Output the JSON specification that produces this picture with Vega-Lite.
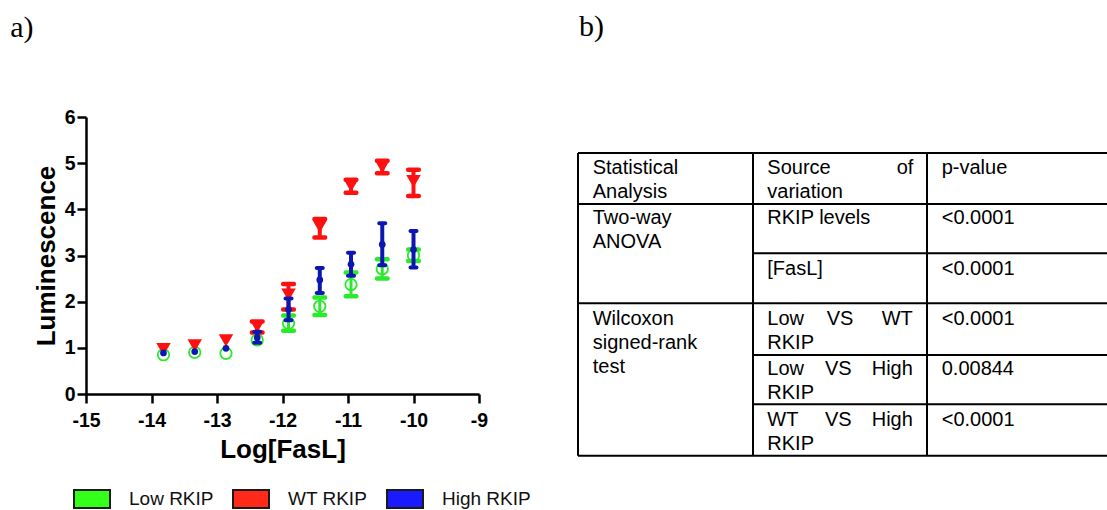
{
  "$schema": "https://vega.github.io/schema/vega-lite/v6.json",
  "padding": {"left": 10, "top": 12, "right": 0, "bottom": 0},
  "background": "white",
  "config": {
    "view": {"stroke": null},
    "title": {"font": "Liberation Serif", "fontSize": 30, "fontWeight": "normal", "color": "black", "anchor": "start"},
    "axis": {
      "grid": false,
      "domainColor": "black", "domainWidth": 2.5,
      "tickColor": "black", "tickWidth": 2.5, "tickSize": 9,
      "labelFont": "Liberation Sans", "labelFontWeight": "bold", "labelFontSize": 19.5, "labelColor": "black",
      "titleFont": "Liberation Sans", "titleFontWeight": "bold", "titleFontSize": 26, "titleColor": "black"
    }
  },
  "datasets": {
    "lum": [
      {"series": "Low RKIP", "logFasL": -13.817, "mean": 0.85},
      {"series": "Low RKIP", "logFasL": -13.34, "mean": 0.90},
      {"series": "Low RKIP", "logFasL": -12.863, "mean": 0.88},
      {"series": "Low RKIP", "logFasL": -12.386, "mean": 1.17},
      {"series": "Low RKIP", "logFasL": -11.908, "mean": 1.53, "lo": 1.37, "hi": 1.70},
      {"series": "Low RKIP", "logFasL": -11.431, "mean": 1.90, "lo": 1.71, "hi": 2.09},
      {"series": "Low RKIP", "logFasL": -10.954, "mean": 2.37, "lo": 2.12, "hi": 2.63},
      {"series": "Low RKIP", "logFasL": -10.477, "mean": 2.71, "lo": 2.50, "hi": 2.92},
      {"series": "Low RKIP", "logFasL": -10.0, "mean": 3.00, "lo": 2.88, "hi": 3.13},
      {"series": "WT RKIP", "logFasL": -13.817, "mean": 0.97},
      {"series": "WT RKIP", "logFasL": -13.34, "mean": 1.05},
      {"series": "WT RKIP", "logFasL": -12.863, "mean": 1.16},
      {"series": "WT RKIP", "logFasL": -12.386, "mean": 1.46, "lo": 1.33, "hi": 1.57},
      {"series": "WT RKIP", "logFasL": -11.908, "mean": 2.15, "lo": 1.83, "hi": 2.38},
      {"series": "WT RKIP", "logFasL": -11.431, "mean": 3.63, "lo": 3.39, "hi": 3.79},
      {"series": "WT RKIP", "logFasL": -10.954, "mean": 4.51, "lo": 4.36, "hi": 4.64},
      {"series": "WT RKIP", "logFasL": -10.477, "mean": 4.92, "lo": 4.78, "hi": 5.05},
      {"series": "WT RKIP", "logFasL": -10.0, "mean": 4.61, "lo": 4.29, "hi": 4.86},
      {"series": "High RKIP", "logFasL": -13.817, "mean": 0.89},
      {"series": "High RKIP", "logFasL": -13.34, "mean": 0.92},
      {"series": "High RKIP", "logFasL": -12.863, "mean": 0.99},
      {"series": "High RKIP", "logFasL": -12.386, "mean": 1.22, "lo": 1.11, "hi": 1.35},
      {"series": "High RKIP", "logFasL": -11.908, "mean": 1.83, "lo": 1.60, "hi": 2.07},
      {"series": "High RKIP", "logFasL": -11.431, "mean": 2.47, "lo": 2.19, "hi": 2.73},
      {"series": "High RKIP", "logFasL": -10.954, "mean": 2.81, "lo": 2.56, "hi": 3.06},
      {"series": "High RKIP", "logFasL": -10.477, "mean": 3.24, "lo": 2.79, "hi": 3.70},
      {"series": "High RKIP", "logFasL": -10.0, "mean": 3.13, "lo": 2.74, "hi": 3.53}
    ],
    "lines": [
      {"x1": 0, "x2": 529, "y1": 0, "y2": 0},
      {"x1": 0, "x2": 529, "y1": 51, "y2": 51},
      {"x1": 175, "x2": 529, "y1": 100.3, "y2": 100.3},
      {"x1": 0, "x2": 529, "y1": 150.3, "y2": 150.3},
      {"x1": 175, "x2": 529, "y1": 202, "y2": 202},
      {"x1": 175, "x2": 529, "y1": 251.3, "y2": 251.3},
      {"x1": 0, "x2": 529, "y1": 302.7, "y2": 302.7},
      {"x1": 0, "x2": 0, "y1": 0, "y2": 302.7},
      {"x1": 175, "x2": 175, "y1": 0, "y2": 302.7},
      {"x1": 349, "x2": 349, "y1": 0, "y2": 302.7}
    ],
    "cells": [
      {"t": "Statistical", "tx": 14.7, "ty": 20.5},
      {"t": "Analysis", "tx": 14.7, "ty": 44.7},
      {"t": "Source", "tx": 189.3, "ty": 20.5},
      {"t": "of", "tx": 318.7, "ty": 20.5},
      {"t": "variation", "tx": 189.3, "ty": 44.7},
      {"t": "p-value", "tx": 363.7, "ty": 20.5},
      {"t": "Two-way", "tx": 14.7, "ty": 71},
      {"t": "ANOVA", "tx": 14.7, "ty": 95.3},
      {"t": "RKIP levels", "tx": 189.3, "ty": 71},
      {"t": "<0.0001", "tx": 363.7, "ty": 71},
      {"t": "[FasL]", "tx": 189.3, "ty": 121.5},
      {"t": "<0.0001", "tx": 363.7, "ty": 121.5},
      {"t": "Wilcoxon", "tx": 14.7, "ty": 172},
      {"t": "signed-rank", "tx": 14.7, "ty": 195.8},
      {"t": "test", "tx": 14.7, "ty": 220.3},
      {"t": "Low", "tx": 189.3, "ty": 172},
      {"t": "VS", "tx": 248.7, "ty": 172},
      {"t": "WT", "tx": 303.7, "ty": 172},
      {"t": "RKIP", "tx": 189.3, "ty": 196},
      {"t": "<0.0001", "tx": 363.7, "ty": 172},
      {"t": "Low", "tx": 189.3, "ty": 222},
      {"t": "VS", "tx": 247, "ty": 222},
      {"t": "High", "tx": 293.7, "ty": 222},
      {"t": "RKIP", "tx": 189.3, "ty": 246.3},
      {"t": "0.00844", "tx": 363.7, "ty": 222},
      {"t": "WT", "tx": 189.3, "ty": 273},
      {"t": "VS", "tx": 247, "ty": 273},
      {"t": "High", "tx": 293.7, "ty": 273},
      {"t": "RKIP", "tx": 189.3, "ty": 297},
      {"t": "<0.0001", "tx": 363.7, "ty": 273}
    ]
  },
  "spacing": 89,
  "hconcat": [
    {
      "title": {"text": "a)", "dx": -23, "offset": 64},
      "width": 393,
      "height": 277,
      "data": {"name": "lum"},
      "encoding": {
        "x": {"field": "logFasL", "type": "quantitative", "scale": {"domain": [-15, -9], "nice": false, "zero": false},
              "axis": {"title": "Log[FasL]", "values": [-15, -14, -13, -12, -11, -10, -9], "labelExpr": "'' + datum.value", "labelPadding": 8, "titlePadding": 7, "labelFlush": false}}
      },
      "layer": [
        {"transform": [{"filter": "datum.series == 'Low RKIP' && datum.lo != null"}],
         "mark": {"type": "rule", "color": "#2BEA2B", "strokeWidth": 3},
         "encoding": {"y": {"field": "lo", "type": "quantitative", "scale": {"domain": [0, 6], "nice": false}, "axis": {"title": "Luminescence", "values": [0, 1, 2, 3, 4, 5, 6], "labelPadding": 2, "titlePadding": 5}}, "y2": {"field": "hi"}}},
        {"transform": [{"filter": "datum.series == 'Low RKIP'"}, {"fold": ["lo", "hi"], "as": ["end", "val"]}, {"filter": "datum.val != null"}],
         "mark": {"type": "tick", "orient": "horizontal", "color": "#2BEA2B", "size": 15, "thickness": 4.5, "cornerRadius": 2, "opacity": 1},
         "encoding": {"y": {"field": "val", "type": "quantitative", "axis": {"title": "Luminescence", "values": [0, 1, 2, 3, 4, 5, 6], "labelPadding": 2, "titlePadding": 5}}}},
        {"transform": [{"filter": "datum.series == 'Low RKIP'"}],
         "mark": {"type": "point", "shape": "circle", "filled": false, "color": "#2BEA2B", "size": 130, "strokeWidth": 1.8, "opacity": 1},
         "encoding": {"y": {"field": "mean", "type": "quantitative", "axis": {"title": "Luminescence", "values": [0, 1, 2, 3, 4, 5, 6], "labelPadding": 2, "titlePadding": 5}}}},
        {"transform": [{"filter": "datum.series == 'WT RKIP' && datum.lo != null"}],
         "mark": {"type": "rule", "color": "#FF1010", "strokeWidth": 4},
         "encoding": {"y": {"field": "lo", "type": "quantitative", "axis": {"title": "Luminescence", "values": [0, 1, 2, 3, 4, 5, 6], "labelPadding": 2, "titlePadding": 5}}, "y2": {"field": "hi"}}},
        {"transform": [{"filter": "datum.series == 'WT RKIP'"}, {"fold": ["lo", "hi"], "as": ["end", "val"]}, {"filter": "datum.val != null"}],
         "mark": {"type": "tick", "orient": "horizontal", "color": "#FF1010", "size": 15, "thickness": 4.5, "cornerRadius": 2, "opacity": 1},
         "encoding": {"y": {"field": "val", "type": "quantitative", "axis": {"title": "Luminescence", "values": [0, 1, 2, 3, 4, 5, 6], "labelPadding": 2, "titlePadding": 5}}}},
        {"transform": [{"filter": "datum.series == 'WT RKIP'"}],
         "mark": {"type": "point", "shape": "triangle-down", "filled": true, "color": "#FF1010", "size": 210, "opacity": 1},
         "encoding": {"y": {"field": "mean", "type": "quantitative", "axis": {"title": "Luminescence", "values": [0, 1, 2, 3, 4, 5, 6], "labelPadding": 2, "titlePadding": 5}}}},
        {"transform": [{"filter": "datum.series == 'High RKIP' && datum.lo != null"}],
         "mark": {"type": "rule", "color": "#0B17B0", "strokeWidth": 4},
         "encoding": {"y": {"field": "lo", "type": "quantitative", "axis": {"title": "Luminescence", "values": [0, 1, 2, 3, 4, 5, 6], "labelPadding": 2, "titlePadding": 5}}, "y2": {"field": "hi"}}},
        {"transform": [{"filter": "datum.series == 'High RKIP'"}, {"fold": ["lo", "hi"], "as": ["end", "val"]}, {"filter": "datum.val != null"}],
         "mark": {"type": "tick", "orient": "horizontal", "color": "#0B17B0", "size": 10, "thickness": 4, "cornerRadius": 2, "opacity": 1},
         "encoding": {"y": {"field": "val", "type": "quantitative", "axis": {"title": "Luminescence", "values": [0, 1, 2, 3, 4, 5, 6], "labelPadding": 2, "titlePadding": 5}}}},
        {"transform": [{"filter": "datum.series == 'High RKIP'"}],
         "mark": {"type": "point", "shape": "circle", "filled": true, "color": "#0B17B0", "size": 45, "opacity": 1},
         "encoding": {"y": {"field": "mean", "type": "quantitative", "axis": {"title": "Luminescence", "values": [0, 1, 2, 3, 4, 5, 6], "labelPadding": 2, "titlePadding": 5}}}},
        {"transform": [{"filter": "false"}],
         "mark": {"type": "point", "filled": true, "opacity": 1},
         "encoding": {
           "y": {"field": "mean", "type": "quantitative", "axis": {"title": "Luminescence", "values": [0, 1, 2, 3, 4, 5, 6], "labelPadding": 2, "titlePadding": 5}},
           "fill": {"field": "series", "type": "nominal",
                    "scale": {"domain": ["Low RKIP", "WT RKIP", "High RKIP"], "range": ["#33FF1A", "#FF2A1A", "#1A1AFF"]},
                    "legend": {"title": null, "orient": "none", "legendX": -13, "legendY": 363, "direction": "horizontal",
                               "symbolType": "M-1,-0.5H1V0.5H-1Z", "symbolSize": 1296, "symbolStrokeColor": "#1a1a1a", "symbolStrokeWidth": 2,
                               "symbolOpacity": 1, "labelFont": "Liberation Sans", "labelFontSize": 19, "labelColor": "#111111",
                               "labelOffset": 18, "columnPadding": 15}}
         }}
      ]
    },
    {
      "title": {"text": "b)", "dx": 2, "offset": 75},
      "width": 529,
      "height": 339,
      "layer": [
        {"data": {"name": "lines"},
         "mark": {"type": "rule", "color": "black", "strokeWidth": 2},
         "encoding": {
           "x": {"field": "x1", "type": "quantitative", "scale": {"domain": [0, 529], "nice": false, "zero": false}, "axis": null},
           "x2": {"field": "x2"},
           "y": {"field": "y1", "type": "quantitative", "scale": {"domain": [-36, 303], "nice": false, "zero": false, "reverse": true}, "axis": null},
           "y2": {"field": "y2"}
         }},
        {"data": {"name": "cells"},
         "mark": {"type": "text", "align": "left", "baseline": "alphabetic", "font": "Liberation Sans", "fontSize": 20, "color": "black"},
         "encoding": {
           "x": {"field": "tx", "type": "quantitative", "axis": null},
           "y": {"field": "ty", "type": "quantitative", "axis": null},
           "text": {"field": "t"}
         }}
      ]
    }
  ]
}
